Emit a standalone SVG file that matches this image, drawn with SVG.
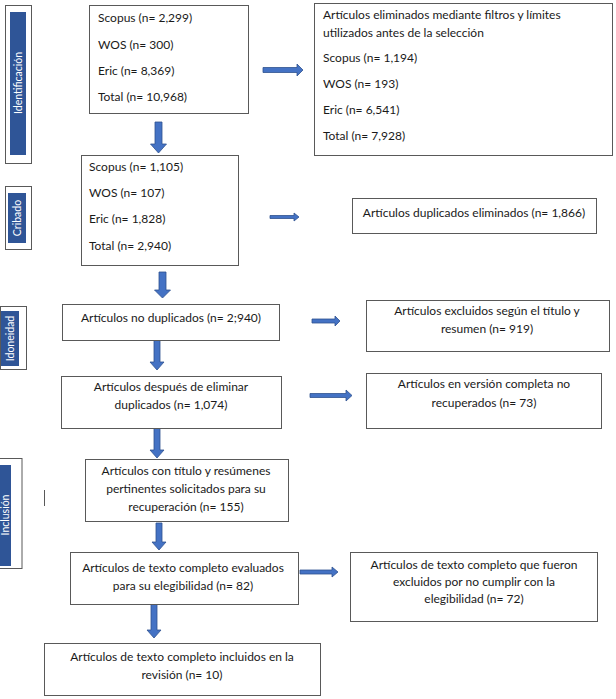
<svg xmlns="http://www.w3.org/2000/svg" width="616" height="699" viewBox="0 0 616 699">
<defs>
<style>
.box{fill:#fff;stroke:#595959;stroke-width:1}
.lbl{fill:#fff;stroke:#595959;stroke-width:1}
.bar{fill:#2F5597}
.t{font-family:Lato,"Open Sans",sans-serif;font-size:12px;fill:#1a1a1a}
.c{text-anchor:middle}
.vt{font-family:Lato,"Open Sans",sans-serif;font-size:10.5px;fill:#fff;text-anchor:middle}
.arr{fill:#4472C4;stroke:#2F528F;stroke-width:0.8}
</style>
</defs>
<rect width="616" height="699" fill="#fff"/>

<g id="label-identificacion">
<rect class="lbl" x="5.5" y="5.5" width="26" height="158"/>
<rect class="bar" x="10" y="12" width="16" height="143"/>
<text class="vt" transform="translate(22,83) rotate(-90)">Identificación</text>
</g>
<g id="label-cribado">
<rect class="lbl" x="5.5" y="186.5" width="26" height="63"/>
<rect class="bar" x="8" y="193" width="18" height="50"/>
<text class="vt" transform="translate(21,218) rotate(-90)">Cribado</text>
</g>
<g id="label-idoneidad">
<rect class="lbl" x="0.5" y="306.5" width="26" height="63"/>
<rect class="bar" x="1" y="311" width="18" height="55"/>
<text class="vt" transform="translate(14,338.5) rotate(-90)">Idoneidad</text>
</g>
<g id="label-inclusion">
<rect class="lbl" x="-1" y="458.5" width="23" height="110"/>
<rect class="bar" x="0" y="465" width="11" height="101"/>
<text class="vt" transform="translate(8.5,515) rotate(-90)">Inclusión</text>
</g>
<line x1="44.5" y1="490" x2="44.5" y2="506" stroke="#595959" stroke-width="1"/>

<g id="connectors">
<path class="arr" d="M155,122 h7 v22 h4.5 l-8,9 l-8,-9 h4.5 z"/>
<path class="arr" d="M159,272 h7 v18 h4.5 l-8,8 l-8,-8 h4.5 z"/>
<path class="arr" d="M154,340 h6 v22 h4 l-7,8 l-7,-8 h4 z"/>
<path class="arr" d="M154,428 h6 v22 h4 l-7,8 l-7,-8 h4 z"/>
<path class="arr" d="M156,523 h6 v19 h4 l-7,8 l-7,-8 h4 z"/>
<path class="arr" d="M151,604 h6 v26 h4 l-7,8 l-7,-8 h4 z"/>
<path class="arr" d="M263,67.5 h34 v-3.5 l6,6 l-6,6 v-3.5 h-34 z"/>
<path class="arr" d="M270,215.5 h24 v-2.5 l5,4 l-5,4 v-2.5 h-24 z"/>
<path class="arr" d="M312,319 h23 v-3 l5,5 l-5,5 v-3 h-23 z"/>
<path class="arr" d="M310,393.5 h36 v-3.5 l6,5.5 l-6,5.5 v-3.5 h-36 z"/>
<path class="arr" d="M300,570 h32 v-3 l6,5 l-6,5 v-3 h-32 z"/>
</g>

<g id="n-ident-total">
<rect class="box" x="89.5" y="5.5" width="159" height="108"/>
<text class="t" x="98" y="22">Scopus (n= 2,299)</text>
<text class="t" x="98" y="49">WOS (n= 300)</text>
<text class="t" x="98" y="75">Eric (n= 8,369)</text>
<text class="t" x="98" y="101">Total (n= 10,968)</text>
</g>
<g id="n-eliminados-filtros">
<rect class="box" x="314.5" y="3.5" width="298" height="152"/>
<text class="t" x="323" y="19">Artículos eliminados mediante filtros y límites</text>
<text class="t" x="323" y="37">utilizados antes de la selección</text>
<text class="t" x="323" y="62">Scopus (n= 1,194)</text>
<text class="t" x="323" y="88">WOS (n= 193)</text>
<text class="t" x="323" y="114">Eric (n= 6,541)</text>
<text class="t" x="323" y="140">Total (n= 7,928)</text>
</g>
<g id="n-cribado-total">
<rect class="box" x="81.5" y="155.5" width="157" height="110"/>
<text class="t" x="89" y="171">Scopus (n= 1,105)</text>
<text class="t" x="89" y="197">WOS (n= 107)</text>
<text class="t" x="89" y="223">Eric (n= 1,828)</text>
<text class="t" x="89" y="250">Total (n= 2,940)</text>
</g>
<g id="n-duplicados-eliminados">
<rect class="box" x="352.5" y="198.5" width="244" height="35"/>
<text class="t c" x="474" y="217">Artículos duplicados eliminados (n= 1,866)</text>
</g>
<g id="n-no-duplicados">
<rect class="box" x="62.5" y="304.5" width="217" height="36"/>
<text class="t c" x="171" y="322">Artículos no duplicados (n= 2;940)</text>
</g>
<g id="n-excluidos-titulo">
<rect class="box" x="366.5" y="300.5" width="243" height="51"/>
<text class="t c" x="487" y="315">Artículos excluidos según el título y</text>
<text class="t c" x="487" y="333">resumen (n= 919)</text>
</g>
<g id="n-despues-eliminar">
<rect class="box" x="61.5" y="376.5" width="220" height="52"/>
<text class="t c" x="171" y="391">Artículos después de eliminar</text>
<text class="t c" x="171" y="409">duplicados (n= 1,074)</text>
</g>
<g id="n-no-recuperados">
<rect class="box" x="366.5" y="373.5" width="235" height="55"/>
<text class="t c" x="484" y="388">Artículos en versión completa no</text>
<text class="t c" x="484" y="407">recuperados (n= 73)</text>
</g>
<g id="n-solicitados">
<rect class="box" x="85.5" y="459.5" width="203" height="62"/>
<text class="t c" x="186" y="475">Artículos con título y resúmenes</text>
<text class="t c" x="186" y="493">pertinentes solicitados para su</text>
<text class="t c" x="186" y="511">recuperación (n= 155)</text>
</g>
<g id="n-evaluados">
<rect class="box" x="70.5" y="552.5" width="228" height="52"/>
<text class="t c" x="183" y="572">Artículos de texto completo evaluados</text>
<text class="t c" x="183" y="590">para su elegibilidad (n= 82)</text>
</g>
<g id="n-excluidos-elegibilidad">
<rect class="box" x="350.5" y="552.5" width="247" height="69"/>
<text class="t c" x="474" y="569">Artículos de texto completo que fueron</text>
<text class="t c" x="474" y="586">excluidos por no cumplir con la</text>
<text class="t c" x="474" y="603">elegibilidad (n= 72)</text>
</g>
<g id="n-incluidos">
<rect class="box" x="44.5" y="643.5" width="276" height="52"/>
<text class="t c" x="182" y="661">Artículos de texto completo incluidos en la</text>
<text class="t c" x="182" y="679">revisión (n= 10)</text>
</g>
</svg>
